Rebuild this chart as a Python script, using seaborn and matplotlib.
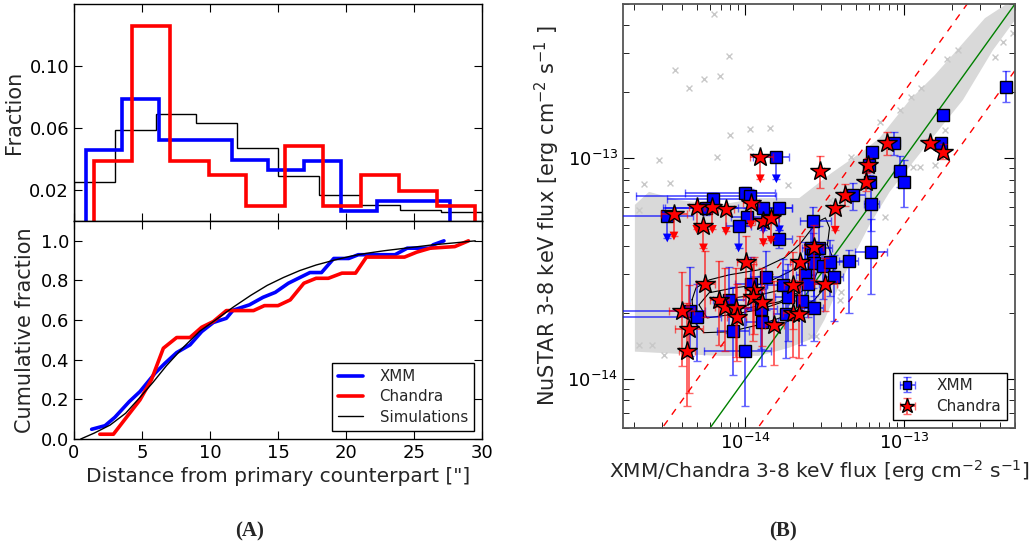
import numpy as np
import pandas as pd
import matplotlib
matplotlib.use("Agg")
import matplotlib.pyplot as plt
import seaborn as sns

# ---------------- (A) offsets between NuSTAR and soft X-ray counterparts ----------------
# differential distributions (fraction per arcsec, step histograms)
sim_edges = [0, 3, 6, 9, 12, 15, 18, 21, 24, 27, 30]
sim_frac = [0.025, 0.059, 0.069, 0.063, 0.047, 0.029, 0.017, 0.0106, 0.0069, 0.006]
xmm_edges = [0.88, 3.56, 6.23, 8.91, 11.59, 14.27, 16.94, 19.62, 22.30, 24.97, 27.65]
xmm_frac = [0.046, 0.0788, 0.0523, 0.0523, 0.0394, 0.0326, 0.039, 0.0063, 0.013, 0.013]
chandra_edges = [1.5, 4.3, 7.09, 9.89, 12.68, 15.48, 18.28, 21.07, 23.87, 26.66, 29.46]
chandra_frac = [0.0386, 0.126, 0.0386, 0.0294, 0.0095, 0.0486, 0.0095, 0.0294, 0.0193, 0.0095]

# cumulative distributions
xmm_cum_r = [1.3, 2.28, 3.0, 4.07, 4.85, 5.96, 6.69, 7.55, 8.53, 9.39, 10.25, 11.2, 11.7,
             12.9, 13.9, 14.8, 15.76, 17.35, 18.2, 19.1, 20.2, 20.9, 23.6, 24.5, 26.2, 26.4, 27.2]
xmm_cum_f = [0.049, 0.067, 0.109, 0.189, 0.239, 0.332, 0.382, 0.436, 0.475, 0.542, 0.588, 0.609,
             0.65, 0.677, 0.715, 0.74, 0.786, 0.84, 0.84, 0.911, 0.911, 0.93, 0.93, 0.963, 0.963,
             0.98, 1.0]
chandra_cum_r = [1.9, 2.9, 3.9, 4.85, 5.7, 6.57, 7.55, 8.53, 9.39, 10.25, 11.2, 12.2, 13.2, 14.0,
                 15.0, 15.9, 16.9, 17.8, 18.7, 19.7, 20.7, 21.5, 24.3, 25.2, 26.2, 28.0, 29.0]
chandra_cum_f = [0.024, 0.024, 0.113, 0.197, 0.30, 0.458, 0.512, 0.512, 0.564, 0.593, 0.648,
                 0.648, 0.648, 0.673, 0.673, 0.702, 0.786, 0.811, 0.811, 0.837, 0.837, 0.918,
                 0.918, 0.943, 0.963, 0.971, 1.0]
sim_cum_r = [0.5, 1.5, 2.65, 3.8, 4.85, 5.8, 6.8, 8.0, 9.26, 10.5, 11.7, 13.0, 14.2, 15.4, 16.6,
             17.8, 19.1, 20.3, 21.5, 22.8, 24.0, 25.2, 26.4, 28.0, 29.5]
sim_cum_f = [0.0, 0.03, 0.07, 0.13, 0.21, 0.285, 0.37, 0.46, 0.545, 0.605, 0.665, 0.725, 0.775,
             0.815, 0.85, 0.878, 0.902, 0.922, 0.937, 0.95, 0.96, 0.97, 0.98, 0.99, 1.0]

# ---------------- (B) NuSTAR vs XMM/Chandra 3-8 keV fluxes (log10 erg cm^-2 s^-1) ----------------
# columns: log flux x, log flux y, x error (dex, low/high), y error (dex, low/high), upper limit
xmm_lx = [-12.359, -12.756, -12.764, -13.065, -13.200, -13.027, -13.002, -13.223, -13.217, -13.322,
          -13.206, -13.804, -13.570, -13.210, -13.347, -13.790, -14.002, -13.968, -14.200, -14.491,
          -14.248, -13.886, -13.785, -13.989, -14.042, -13.962, -13.585, -13.575, -13.533, -13.568,
          -13.512, -13.463, -13.623, -13.444, -13.606, -13.764, -13.869, -13.732, -13.643, -13.569,
          -13.743, -13.896, -13.899, -14.351, -14.305, -14.101, -14.076, -14.002]
xmm_ly = [-12.676, -12.805, -12.932, -12.932, -12.970, -13.059, -13.106, -13.030, -13.106, -13.166,
          -13.208, -12.993, -13.282, -13.425, -13.465, -13.367, -13.158, -13.171, -13.186, -13.261,
          -13.226, -13.224, -13.224, -13.267, -13.306, -13.569, -13.407, -13.438, -13.407, -13.475,
          -13.487, -13.472, -13.528, -13.536, -13.571, -13.576, -13.538, -13.628, -13.646, -13.679,
          -13.705, -13.741, -13.682, -13.694, -13.719, -13.643, -13.781, -13.875]
xmm_xlo = [0.02, 0.01, 0.01, 0.04, 0.015, 0.035, 0.02, 0.02, 0.025, 0.063, 0.047, 0.15, 0.088, 0.1,
           0.06, 0.048, 0.38, 0.72, 0.29, 0.5, 0.26, 0.63, 0.1, 0.1, 0.08, 0.1, 0.06, 0.05, 0.05,
           0.06, 0.08, 0.08, 0.06, 0.06, 0.07, 0.1, 0.1, 0.08, 0.08, 0.06, 0.08, 0.1, 0.1, 0.5, 0.6,
           0.1, 0.1, 0.26]
xmm_xhi = [0.02, 0.01, 0.01, 0.04, 0.015, 0.035, 0.02, 0.02, 0.025, 0.074, 0.047, 0.082, 0.11, 0.1,
           0.06, 0.087, 0.19, 0.16, 0.23, 0.165, 0.2, 0.18, 0.08, 0.1, 0.08, 0.1, 0.06, 0.05, 0.08,
           0.06, 0.08, 0.08, 0.06, 0.06, 0.07, 0.1, 0.1, 0.08, 0.08, 0.06, 0.08, 0.1, 0.1, 0.1, 0.15,
           0.1, 0.1, 0.164]
xmm_ylo = [0.069, 0.02, 0.025, 0.053, 0.02, 0.07, 0.116, 0.03, 0.03, 0.068, 0.12, 0.0, 0.12, 0.19,
           0.235, 0.04, 0.03, 0.03, 0.03, 0.0, 0.03, 0.0, 0.0, 0.04, 0.0, 0.12, 0.12, 0.15, 0.1,
           0.15, 0.15, 0.15, 0.15, 0.2, 0.15, 0.15, 0.15, 0.2, 0.2, 0.15, 0.2, 0.2, 0.18, 0.2, 0.2,
           0.15, 0.2, 0.245]
xmm_yhi = [0.071, 0.02, 0.025, 0.053, 0.02, 0.07, 0.098, 0.03, 0.03, 0.053, 0.10, 0.0, 0.06, 0.15,
           0.05, 0.04, 0.03, 0.03, 0.03, 0.0, 0.03, 0.0, 0.0, 0.04, 0.0, 0.12, 0.13, 0.1, 0.1, 0.1,
           0.1, 0.1, 0.15, 0.1, 0.12, 0.12, 0.12, 0.15, 0.15, 0.12, 0.2, 0.15, 0.15, 0.2, 0.15, 0.15,
           0.2, 0.2]
xmm_ul = [0, 0, 0, 0, 0, 0, 0, 0, 0, 0, 0, 1, 0, 0, 0, 0, 0, 0, 0, 1, 0, 1, 1, 0, 1, 0, 0, 0, 0, 0,
          0, 0, 0, 0, 0, 0, 0, 0, 0, 0, 0, 0, 0, 0, 0, 0, 0, 0]

chandra_lx = [-13.107, -12.838, -12.757, -13.227, -13.238, -13.370, -13.526, -13.905, -13.433,
              -13.964, -14.122, -14.207, -14.305, -14.449, -14.263, -13.886, -13.838, -14.253,
              -14.164, -14.130, -14.059, -14.053, -14.401, -14.354, -14.366, -13.943, -13.954,
              -13.893, -13.817, -13.697, -13.701, -13.663, -13.495, -13.569, -13.656, -13.992]
chandra_ly = [-12.932, -12.932, -12.970, -13.030, -13.106, -13.166, -13.057, -12.993, -13.226,
              -13.201, -13.231, -13.222, -13.222, -13.252, -13.306, -13.282, -13.271, -13.570,
              -13.644, -13.675, -13.679, -13.719, -13.693, -13.772, -13.875, -13.596, -13.629,
              -13.649, -13.757, -13.573, -13.701, -13.705, -13.571, -13.400, -13.472, -13.472]
chandra_xlo = [0.02, 0.01, 0.01, 0.02, 0.02, 0.03, 0.02, 0.065, 0.03, 0.05, 0.05, 0.05, 0.05, 0.08,
               0.05, 0.05, 0.05, 0.06, 0.06, 0.06, 0.06, 0.06, 0.08, 0.09, 0.05, 0.06, 0.06, 0.06,
               0.06, 0.06, 0.06, 0.06, 0.07, 0.06, 0.06, 0.06]
chandra_xhi = [0.02, 0.01, 0.01, 0.02, 0.02, 0.03, 0.02, 0.078, 0.03, 0.05, 0.05, 0.05, 0.05, 0.08,
               0.05, 0.05, 0.05, 0.06, 0.06, 0.06, 0.06, 0.06, 0.08, 0.09, 0.05, 0.06, 0.06, 0.06,
               0.06, 0.06, 0.06, 0.06, 0.07, 0.06, 0.06, 0.06]
chandra_ylo = [0.053, 0.02, 0.035, 0.03, 0.04, 0.05, 0.076, 0.0, 0.0, 0.0, 0.0, 0.0, 0.0, 0.0, 0.0,
               0.0, 0.0, 0.15, 0.2, 0.2, 0.22, 0.2, 0.25, 0.29, 0.245, 0.2, 0.2, 0.2, 0.18, 0.2, 0.2,
               0.2, 0.12, 0.15, 0.2, 0.2]
chandra_yhi = [0.05, 0.02, 0.035, 0.03, 0.04, 0.05, 0.068, 0.0, 0.0, 0.0, 0.0, 0.0, 0.0, 0.0, 0.0,
               0.0, 0.0, 0.15, 0.18, 0.18, 0.18, 0.15, 0.18, 0.2, 0.22, 0.15, 0.15, 0.15, 0.2, 0.15,
               0.15, 0.15, 0.12, 0.1, 0.12, 0.12]
chandra_ul = [0, 0, 0, 0, 0, 0, 0, 1, 1, 1, 1, 1, 1, 1, 1, 1, 1, 0, 0, 0, 0, 0, 0, 0, 0, 0, 0, 0, 0,
              0, 0, 0, 0, 0, 0, 0]

# simulated sources: envelope of the dense region and isolated simulated sources
sim_cloud_lx = [-14.695, -14.695, -14.606, -14.417, -14.164, -13.912, -13.659, -13.457, -13.248,
                -13.154, -12.964, -12.806, -12.667, -12.490, -12.364, -12.301, -12.301, -12.440,
                -12.629, -12.882, -13.090, -13.217, -13.330, -13.419, -13.501, -13.564, -13.722,
                -13.912, -14.164, -14.417]
sim_cloud_ly = [-13.876, -13.211, -13.152, -13.189, -13.211, -13.180, -13.180, -13.067, -12.962,
                -12.908, -12.736, -12.623, -12.510, -12.365, -12.306, -12.306, -12.374, -12.510,
                -12.736, -12.962, -13.152, -13.302, -13.460, -13.596, -13.732, -13.813, -13.858,
                -13.895, -13.895, -13.886]
sim_iso_lx = [-14.194, -14.103, -14.444, -14.257, -14.156, -14.352, -14.097, -13.967, -13.846,
              -14.543, -14.474, -13.970, -14.179, -14.636, -13.733, -12.311, -12.375, -12.427,
              -12.659, -12.732, -13.027, -12.953, -12.901, -12.945, -13.122, -13.154, -13.332,
              -12.890, -13.585, -13.553, -13.406, -13.395, -14.514, -14.587, -14.670, -14.670,
              -12.743, -13.217, -13.469, -12.806]
sim_iso_ly = [-12.347, -12.536, -12.599, -12.641, -12.629, -12.681, -12.895, -12.867, -12.864,
              -13.008, -13.110, -12.950, -12.995, -13.118, -13.121, -12.434, -12.472, -12.540,
              -12.510, -12.552, -12.781, -12.721, -13.038, -13.038, -13.264, -12.834, -12.993,
              -12.683, -13.807, -13.804, -13.641, -13.604, -13.890, -13.845, -13.845, -13.234,
              -12.872, -13.098, -13.188, -13.031]

# density contours of the simulated sample
contour_outer_lx = [-14.335, -14.310, -14.227, -14.101, -13.912, -13.754, -13.659, -13.596, -13.545,
                    -13.495, -13.469, -13.482, -13.438, -13.457, -13.564, -13.722, -13.912, -14.101,
                    -14.259, -14.322, -14.335]
contour_outer_ly = [-13.641, -13.587, -13.551, -13.528, -13.505, -13.451, -13.392, -13.333, -13.288,
                    -13.270, -13.315, -13.392, -13.469, -13.551, -13.641, -13.709, -13.754, -13.786,
                    -13.790, -13.741, -13.641]
contour_mid_lx = [-14.291, -14.227, -14.069, -13.880, -13.722, -13.627, -13.564, -13.533, -13.583,
                  -13.722, -13.912, -14.101, -14.240, -14.291]
contour_mid_ly = [-13.664, -13.609, -13.587, -13.569, -13.514, -13.469, -13.438, -13.496, -13.573,
                  -13.641, -13.686, -13.709, -13.723, -13.664]
contour_inner_lx = [-14.164, -14.069, -13.880, -13.722, -13.646, -13.659, -13.785, -13.975, -14.133,
                    -14.164]
contour_inner_ly = [-13.664, -13.632, -13.614, -13.587, -13.560, -13.605, -13.650, -13.677, -13.691,
                    -13.664]

# NuSTAR / soft flux ratios shown as reference lines
ratio_line = [1.0]
ratio_band = [2.0, 0.5]

# ---------------- style ----------------
sns.set_style("ticks")
plt.rcParams.update({
    "font.family": ["DejaVu Sans"],
    "mathtext.default": "regular",
    "xtick.direction": "in", "ytick.direction": "in",
    "xtick.top": True, "ytick.right": True,
    "xtick.major.size": 6, "ytick.major.size": 6,
    "xtick.minor.size": 3, "ytick.minor.size": 3,
    "xtick.color": "black", "ytick.color": "black",
    "axes.edgecolor": "black", "axes.linewidth": 1.0,
    "legend.fancybox": False, "legend.edgecolor": "black", "legend.framealpha": 1.0,
})

fig = plt.figure(figsize=(10.36, 5.49), dpi=100)
ax_h = fig.add_axes([0.0714, 0.5974, 0.3939, 0.3953])
ax_c = fig.add_axes([0.0714, 0.2004, 0.3939, 0.3970])
ax_f = fig.add_axes([0.6014, 0.2204, 0.3783, 0.7723])

BLUE, RED = "#0000ff", "#ff0000"

# ---- differential histograms ----
ax_h.stairs(sim_frac, sim_edges, color="black", lw=1.0, baseline=0)
ax_h.stairs(xmm_frac, xmm_edges, color=BLUE, lw=2.6, baseline=0)
ax_h.stairs(chandra_frac, chandra_edges, color=RED, lw=2.6, baseline=0)
ax_h.set_xlim(0, 30)
ax_h.set_ylim(0, 0.14)
ax_h.set_yticks([0.02, 0.06, 0.10])
ax_h.set_yticklabels(["0.02", "0.06", "0.10"])
ax_h.set_xticks(range(0, 31, 5))
ax_h.tick_params(labelbottom=False, labelsize=13)
ax_h.set_ylabel("Fraction", fontsize=15)

# ---- cumulative distributions ----
sns.lineplot(x=xmm_cum_r, y=xmm_cum_f, ax=ax_c, color=BLUE, lw=2.6, sort=False,
             estimator=None, label="XMM")
sns.lineplot(x=chandra_cum_r, y=chandra_cum_f, ax=ax_c, color=RED, lw=2.6, sort=False,
             estimator=None, label="Chandra")
sns.lineplot(x=sim_cum_r, y=sim_cum_f, ax=ax_c, color="black", lw=1.0, sort=False,
             estimator=None, label="Simulations")
ax_c.set_xlim(0, 30)
ax_c.set_ylim(0, 1.1)
ax_c.set_xticks(range(0, 31, 5))
ax_c.set_yticks([0.0, 0.2, 0.4, 0.6, 0.8, 1.0])
ax_c.tick_params(labelsize=13)
ax_c.set_xlabel('Distance from primary counterpart ["]', fontsize=14.5)
ax_c.set_ylabel("Cumulative fraction", fontsize=15)
ax_c.legend(loc="lower right", fontsize=10.8, handlelength=1.7, borderaxespad=0.55,
            labelspacing=0.35, borderpad=0.4, handletextpad=1.1)

# ---- flux comparison ----
ax_f.set_xscale("log")
ax_f.set_yscale("log")
xlim = (1.7e-15, 5e-13)
ylim = (6e-15, 5e-13)

cloud_x = 10 ** np.array(sim_cloud_lx)
cloud_y = 10 ** np.array(sim_cloud_ly)
ax_f.fill(cloud_x, cloud_y, facecolor="#d9d9d9", lw=0, zorder=1)
sns.scatterplot(x=10 ** np.array(sim_iso_lx), y=10 ** np.array(sim_iso_ly), ax=ax_f,
                marker="x", color="#c8c8c8", s=18, linewidth=1.0, zorder=1.2)

for cx, cy in [(contour_outer_lx, contour_outer_ly), (contour_mid_lx, contour_mid_ly),
               (contour_inner_lx, contour_inner_ly)]:
    ax_f.plot(10 ** np.array(cx), 10 ** np.array(cy), color="black", lw=0.8, zorder=1.5)

line_x = np.array([1e-16, 1e-11])
for r in ratio_line:
    ax_f.plot(line_x, r * line_x, color="#008000", lw=1.0, zorder=1.6)
for r in ratio_band:
    ax_f.plot(line_x, r * line_x, color=RED, lw=1.0, ls=(0, (5, 5)), zorder=1.6)

ARROW_DEX = 0.1


def draw_sample(lx, ly, xlo, xhi, ylo, yhi, ul, color, marker, ms, label, zo):
    df = pd.DataFrame(dict(lx=lx, ly=ly, xlo=xlo, xhi=xhi, ylo=ylo, yhi=yhi, ul=ul))
    df["x"] = 10 ** df.lx
    df["y"] = 10 ** df.ly
    df["ex_lo"] = df.x - 10 ** (df.lx - df.xlo)
    df["ex_hi"] = 10 ** (df.lx + df.xhi) - df.x
    lim = df.ul == 1
    df["arrow_y"] = 10 ** (df.ly - ARROW_DEX)
    df["ey_lo"] = np.where(lim, df.y - df.arrow_y, df.y - 10 ** (df.ly - df.ylo))
    df["ey_hi"] = 10 ** (df.ly + df.yhi) - df.y
    ecol = matplotlib.colors.to_rgba(color, 0.6)
    kw = dict(fmt=marker, ms=ms, mfc=color, mec="black", mew=1.0, ecolor=ecol,
              elinewidth=1.4, capsize=3, capthick=1.4, zorder=zo)
    det = df[~lim]
    h = ax_f.errorbar(det.x, det.y, xerr=[det.ex_lo, det.ex_hi], yerr=[det.ey_lo, det.ey_hi],
                      label=label, **kw)
    up = df[lim]
    ax_f.errorbar(up.x, up.y, xerr=[up.ex_lo, up.ex_hi], yerr=[up.ey_lo, up.ey_hi * 0],
                  **kw)
    sns.scatterplot(x=up.x, y=up.arrow_y, ax=ax_f, marker="v", color=color, s=40,
                    edgecolor="none", zorder=zo - 0.5)
    return h


h_x = draw_sample(xmm_lx, xmm_ly, xmm_xlo, xmm_xhi, xmm_ylo, xmm_yhi, xmm_ul,
                  BLUE, "s", 8.5, "XMM", 3)
h_c = draw_sample(chandra_lx, chandra_ly, chandra_xlo, chandra_xhi, chandra_ylo, chandra_yhi,
                  chandra_ul, RED, "*", 15, "Chandra", 4)

ax_f.set_xlim(*xlim)
ax_f.set_ylim(*ylim)
ax_f.tick_params(which="both", labelsize=13)
ax_f.tick_params(which="major", length=8)
ax_f.tick_params(which="minor", length=4)
for s in ax_f.spines.values():
    s.set_color("#555555")
    s.set_linewidth(1.3)
ax_f.set_xlabel(r"XMM/Chandra 3-8 keV flux [erg cm$^{-2}$ s$^{-1}$]", fontsize=14.5)
ax_f.set_ylabel(r"NuSTAR 3-8 keV flux [erg cm$^{-2}$ s$^{-1}$ ]", fontsize=15)
ax_f.legend(handles=[h_x, h_c], labels=["XMM", "Chandra"], loc="lower right", fontsize=11,
            numpoints=1, handlelength=1.2, borderaxespad=0.55, labelspacing=0.4,
            borderpad=0.35, handletextpad=1.3, markerscale=0.75)

fig.text(0.2413, 0.032, "(A)", ha="center", va="center", fontsize=15, weight="bold",
         family=["Liberation Serif", "DejaVu Serif"])
fig.text(0.7558, 0.032, "(B)", ha="center", va="center", fontsize=15, weight="bold",
         family=["Liberation Serif", "DejaVu Serif"])

fig.savefig("out.png", dpi=100)
